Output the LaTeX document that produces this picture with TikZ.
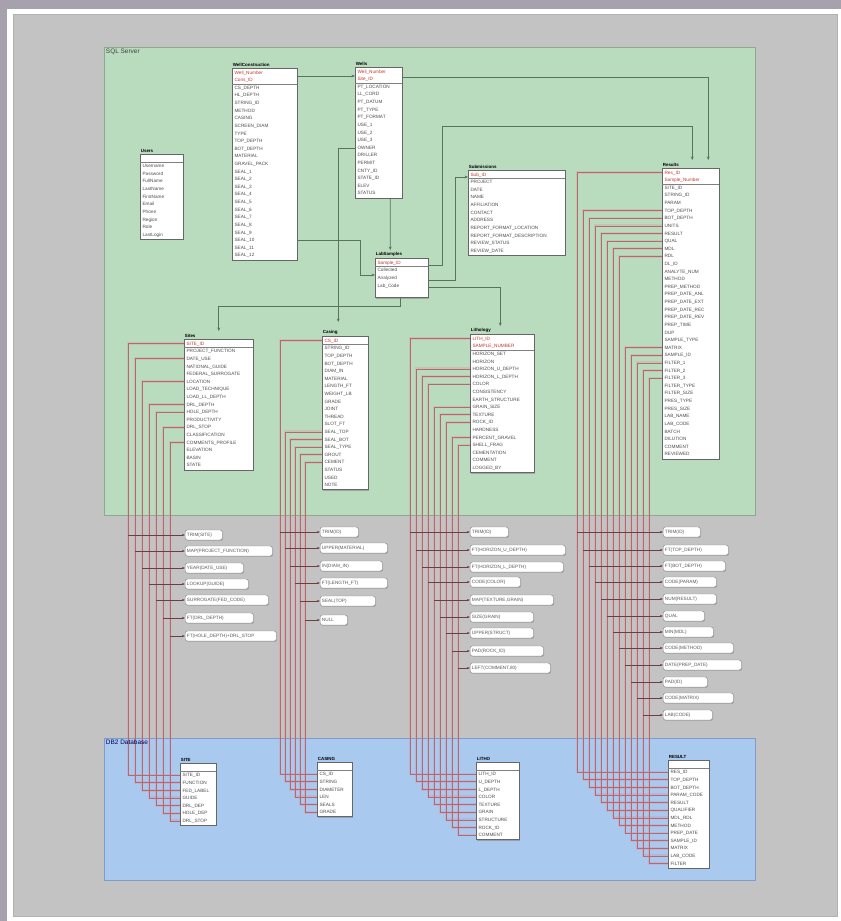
\documentclass[tikz,border=0pt]{standalone}
\usepackage{fontspec}
\setmainfont{Liberation Sans}
\usetikzlibrary{arrows.meta,positioning,calc,shadows}

\definecolor{framegray}{HTML}{A7A1AD}
\definecolor{canvasgray}{HTML}{C3C3C3}
\definecolor{sqlgreen}{HTML}{B9DCBE}
\definecolor{sqledge}{HTML}{8DAA8F}
\definecolor{dbblue}{HTML}{A9C9EF}
\definecolor{dbedge}{HTML}{7E9CC4}
\definecolor{keyred}{HTML}{C0392B}
\definecolor{mapred}{HTML}{B8676C}
\definecolor{halopink}{HTML}{E58A97}
\definecolor{relgreen}{HTML}{587558}

\pgfdeclarelayer{bg}
\pgfdeclarelayer{halo}
\pgfdeclarelayer{wires}
\pgfsetlayers{bg,halo,wires,main}

\newcommand{\rowh}{7.615}

\begin{document}
\begin{tikzpicture}[
  x=0.03cm, y=-0.03cm,
  >=Latex,
  font=\fontsize{4}{6.5}\selectfont,
  zone/.style={draw=#1, line width=0.6pt, anchor=north west, inner sep=0pt},
  zonelabel/.style={anchor=north west, inner sep=1.5pt, font=\fontsize{5.5}{6}\selectfont},
  tbl/.style={draw=black!60, fill=white, anchor=north west, align=left, inner xsep=2pt, inner ysep=0.5pt, text=black!70,
    drop shadow={shadow xshift=0.9pt, shadow yshift=-0.9pt, fill=black!55, opacity=0.45}},
  tbltitle/.style={anchor=south west, inner xsep=0.5pt, inner ysep=0.8pt, font=\fontsize{3.8}{4}\selectfont\bfseries},
  sepline/.style={draw=black!50, line width=0.3pt},
  pill/.style={draw=black!45, fill=white, rounded corners=1.8pt, anchor=west, align=left, inner xsep=1.5pt, inner ysep=0pt,
    minimum height=0.3cm, text=black!65, drop shadow={shadow xshift=0.7pt, shadow yshift=-0.7pt, fill=black!50, opacity=0.45}},
  halo/.style={draw=halopink, line width=2.4pt, opacity=0.3},
  mapline/.style={draw=mapred, line width=0.3pt},
  pillwire/.style={draw=mapred!60!black, line width=0.3pt, -{Latex[length=2.2pt,width=1.8pt]}},
  rel/.style={draw=relgreen, line width=0.45pt, -{Stealth[length=3pt,width=2.4pt]}}
]
\useasboundingbox (0,0) rectangle (841,921);

% frame and zones
\begin{pgfonlayer}{bg}
\fill[framegray] (0,0) rectangle (841,921);
\fill[white] (7,9) rectangle (841,921);
\filldraw[fill=canvasgray, draw=black!30] (13,14) rectangle (837,916);
\node[zone=sqledge, fill=sqlgreen, minimum width=19.53cm, minimum height=14.04cm] (sql) at (104,47) {};
\node[zone=dbedge, fill=dbblue, minimum width=19.53cm, minimum height=4.26cm] (db2) at (104,738) {};
\end{pgfonlayer}
\node[zonelabel, text=black!75] (sql-l) at (sql.north west) {SQL Server};
\node[zonelabel, text=blue!35!black] (db2-l) at (db2.north west) {DB2 Database};

% SQL Server tables
\node[tbl, text width=1.15cm] (users) at (140,154) {\strut\\Username\\Password\\FullName\\LastName\\FirstName\\Email\\Phone\\Region\\Role\\LastLogin\strut};
\node[tbltitle] (users-t) at (users.north west) {Users};

\node[tbl, text width=1.81cm] (wcons) at (232,68) {\strut\textcolor{keyred}{Well\_Number}\\\textcolor{keyred}{Cons\_ID}\\CS\_DEPTH\\HL\_DEPTH\\STRING\_ID\\METHOD\\CASING\\SCREEN\_DIAM\\TYPE\\TOP\_DEPTH\\BOT\_DEPTH\\MATERIAL\\GRAVEL\_PACK\\SEAL\_1\\SEAL\_2\\SEAL\_3\\SEAL\_4\\SEAL\_5\\SEAL\_6\\SEAL\_7\\SEAL\_8\\SEAL\_9\\SEAL\_10\\SEAL\_11\\SEAL\_12\strut};
\node[tbltitle] (wcons-t) at (wcons.north west) {WellConstruction};

\node[tbl, text width=1.27cm] (wells) at (355,67) {\strut\textcolor{keyred}{Well\_Number}\\\textcolor{keyred}{Site\_ID}\\PT\_LOCATION\\LL\_CORD\\PT\_DATUM\\PT\_TYPE\\PT\_FORMAT\\USE\_1\\USE\_2\\USE\_3\\OWNER\\DRILLER\\PERMIT\\CNTY\_ID\\STATE\_ID\\ELEV\\STATUS\strut};
\node[tbltitle] (wells-t) at (wells.north west) {Wells};

\node[tbl, text width=1.45cm] (labs) at (375,258) {\strut\textcolor{keyred}{Sample\_ID}\\Collected\\Analyzed\\Lab\_Code\\\strut};
\node[tbltitle] (labs-t) at (labs.north west) {LabSamples};

\node[tbl, text width=2.77cm] (subm) at (468,170) {\strut\textcolor{keyred}{Sub\_ID}\\PROJECT\\DATE\\NAME\\AFFILIATION\\CONTACT\\ADDRESS\\REPORT\_FORMAT\_LOCATION\\REPORT\_FORMAT\_DESCRIPTION\\REVIEW\_STATUS\\REVIEW\_DATE\strut};
\node[tbltitle] (subm-t) at (subm.north west) {Submissions};

\node[tbl, text width=1.57cm] (results) at (662,168) {\strut\textcolor{keyred}{Res\_ID}\\\textcolor{keyred}{Sample\_Number}\\SITE\_ID\\STRING\_ID\\PARAM\\TOP\_DEPTH\\BOT\_DEPTH\\UNITS\\RESULT\\QUAL\\MDL\\RDL\\DL\_ID\\ANALYTE\_NUM\\METHOD\\PREP\_METHOD\\PREP\_DATE\_ANL\\PREP\_DATE\_EXT\\PREP\_DATE\_REC\\PREP\_DATE\_REV\\PREP\_TIME\\DUP\\SAMPLE\_TYPE\\MATRIX\\SAMPLE\_ID\\FILTER\_1\\FILTER\_2\\FILTER\_3\\FILTER\_TYPE\\FILTER\_SIZE\\PRES\_TYPE\\PRES\_SIZE\\LAB\_NAME\\LAB\_CODE\\BATCH\\DILUTION\\COMMENT\\REVIEWED\strut};
\node[tbltitle] (results-t) at (results.north west) {Results};

\node[tbl, text width=1.93cm] (sites) at (184,339) {\strut\textcolor{keyred}{SITE\_ID}\\PROJECT\_FUNCTION\\DATE\_USE\\NATIONAL\_GUIDE\\FEDERAL\_SURROGATE\\LOCATION\\LOAD\_TECHNIQUE\\LOAD\_LL\_DEPTH\\DRL\_DEPTH\\HOLE\_DEPTH\\PRODUCTIVITY\\DRL\_STOP\\CLASSIFICATION\\COMMENTS\_PROFILE\\ELEVATION\\BASIN\\STATE\strut};
\node[tbltitle] (sites-t) at (sites.north west) {Sites};

\node[tbl, text width=1.24cm] (casing) at (322,336) {\strut\textcolor{keyred}{CS\_ID}\\STRING\_ID\\TOP\_DEPTH\\BOT\_DEPTH\\DIAM\_IN\\MATERIAL\\LENGTH\_FT\\WEIGHT\_LB\\GRADE\\JOINT\\THREAD\\SLOT\_FT\\SEAL\_TOP\\SEAL\_BOT\\SEAL\_TYPE\\GROUT\\CEMENT\\STATUS\\USED\\NOTE\strut};
\node[tbltitle] (casing-t) at (casing.north west) {Casing};

\node[tbl, text width=1.78cm] (litho) at (470,334) {\strut\textcolor{keyred}{LITH\_ID}\\\textcolor{keyred}{SAMPLE\_NUMBER}\\HORIZON\_SET\\HORIZON\\HORIZON\_U\_DEPTH\\HORIZON\_L\_DEPTH\\COLOR\\CONSISTENCY\\EARTH\_STRUCTURE\\GRAIN\_SIZE\\TEXTURE\\ROCK\_ID\\HARDNESS\\PERCENT\_GRAVEL\\SHELL\_FRAG\\CEMENTATION\\COMMENT\\LOGGED\_BY\strut};
\node[tbltitle] (litho-t) at (litho.north west) {Lithology};

% DB2 tables
\node[tbl, text width=0.94cm] (dbsite) at (180,763) {\strut\\SITE\_ID\\FUNCTION\\FED\_LABEL\\GUIDE\\DRL\_DEP\\HOLE\_DEP\\DRL\_STOP\strut};
\node[tbltitle] (dbsite-t) at (dbsite.north west) {SITE};

\node[tbl, text width=0.91cm] (dbcasing) at (317,762) {\strut\\CS\_ID\\STRING\\DIAMETER\\LEN\\SEALS\\GRADE\strut};
\node[tbltitle] (dbcasing-t) at (dbcasing.north west) {CASING};

\node[tbl, text width=1.15cm] (dblitho) at (476,762) {\strut\\LITH\_ID\\U\_DEPTH\\L\_DEPTH\\COLOR\\TEXTURE\\GRAIN\\STRUCTURE\\ROCK\_ID\\COMMENT\strut};
\node[tbltitle] (dblitho-t) at (dblitho.north west) {LITHO};

\node[tbl, text width=1.09cm] (dbresult) at (668,760) {\strut\\RES\_ID\\TOP\_DEPTH\\BOT\_DEPTH\\PARAM\_CODE\\RESULT\\QUALIFIER\\MDL\_RDL\\METHOD\\PREP\_DATE\\SAMPLE\_ID\\MATRIX\\LAB\_CODE\\FILTER\strut};
\node[tbltitle] (dbresult-t) at (dbresult.north west) {RESULT};

% key separators
\foreach \tb/\k in {users/1, wcons/2, wells/2, labs/1, subm/1, results/2, sites/1, casing/1, litho/2, dbsite/1, dbcasing/1, dblitho/1, dbresult/1}
  \draw[sepline] ($(\tb.north west)+(0,{0.59+\k*\rowh})$) -- ($(\tb.north east)+(0,{0.59+\k*\rowh})$);

% relationships
\begin{pgfonlayer}{wires}
\draw[rel] ($(wcons.north east)+(0,8)$) -- ($(wells.north west)+(0,9)$);
\draw[rel] ($(wells.north east)+(0,10)$) -| ($(results.north)+(17.5,-8)$);
\draw[rel] ($(labs.north east)+(0,7)$) -- ++(14,0) |- ($(results.north)+(1.5,-42)$) -- ($(results.north)+(1.5,-8)$);
\draw[rel] ($(wells.north west)+(0,81)$) -| ($(casing.north)+(-7,-14)$);
\draw[rel] ($(wells.south)+(11.5,0)$) -- ($(labs.north)+(-11.5,-8)$);
\draw[rel] ($(wcons.north east)+(0,172)$) -| ($(labs.north west)+(-15,17)$) -- ($(labs.north west)+(0,17)$);
\draw[rel] ($(labs.south)+(-1.5,0)$) -- ++(0,9) -| ($(sites.north)+(0,-8)$);
\draw[rel] ($(labs.north east)+(0,29)$) -| ($(litho.north)+(-2,-8)$);
\draw[rel] ($(labs.north east)+(0,22)$) -- ++(27,0) |- ($(subm.north west)+(0,7)$);
\end{pgfonlayer}

% column mappings: sites -> dbsite
\foreach \idx/\row/\xx in {1/1/128, 2/3/135, 3/6/142, 4/9/149, 5/10/156, 6/12/163, 7/14/170}{
  \coordinate (u) at ($(sites.north west)+(0,{0.59+(\row-0.5)*\rowh})$);
  \coordinate (d) at ($(dbsite.north west)+(0,{0.59+(\idx+0.5)*\rowh})$);
  \coordinate (v) at (\xx,0);
  \begin{pgfonlayer}{halo}\draw[halo] (u) -- (u -| v) -- (d -| v) -- (d);\end{pgfonlayer}
  \begin{pgfonlayer}{wires}\draw[mapline] (u) -- (u -| v) -- (d -| v) -- (d);\end{pgfonlayer}
}
% casing -> dbcasing
\foreach \idx/\row/\xx in {1/1/280, 2/13/285, 3/14/290, 4/15/295, 5/16/300, 6/17/305}{
  \coordinate (u) at ($(casing.north west)+(0,{0.59+(\row-0.5)*\rowh})$);
  \coordinate (d) at ($(dbcasing.north west)+(0,{0.59+(\idx+0.5)*\rowh})$);
  \coordinate (v) at (\xx,0);
  \begin{pgfonlayer}{halo}\draw[halo] (u) -- (u -| v) -- (d -| v) -- (d);\end{pgfonlayer}
  \begin{pgfonlayer}{wires}\draw[mapline] (u) -- (u -| v) -- (d -| v) -- (d);\end{pgfonlayer}
}
% litho -> dblitho
\foreach \idx/\row/\xx in {1/1/410, 2/5/416, 3/6/422, 4/7/428, 5/10/434, 6/11/440, 7/12/446, 8/14/452, 9/15/458}{
  \coordinate (u) at ($(litho.north west)+(0,{0.59+(\row-0.5)*\rowh})$);
  \coordinate (d) at ($(dblitho.north west)+(0,{0.59+(\idx+0.5)*\rowh})$);
  \coordinate (v) at (\xx,0);
  \begin{pgfonlayer}{halo}\draw[halo] (u) -- (u -| v) -- (d -| v) -- (d);\end{pgfonlayer}
  \begin{pgfonlayer}{wires}\draw[mapline] (u) -- (u -| v) -- (d -| v) -- (d);\end{pgfonlayer}
}
% results -> dbresult
\foreach \idx/\row/\xx in {1/1/577, 2/6/583, 3/7/589, 4/8/595, 5/9/601, 6/10/607, 7/11/613, 8/12/619, 9/24/625, 10/25/631, 11/26/637, 12/27/643, 13/28/649}{
  \coordinate (u) at ($(results.north west)+(0,{0.59+(\row-0.5)*\rowh})$);
  \coordinate (d) at ($(dbresult.north west)+(0,{0.59+(\idx+0.5)*\rowh})$);
  \coordinate (v) at (\xx,0);
  \begin{pgfonlayer}{halo}\draw[halo] (u) -- (u -| v) -- (d -| v) -- (d);\end{pgfonlayer}
  \begin{pgfonlayer}{wires}\draw[mapline] (u) -- (u -| v) -- (d -| v) -- (d);\end{pgfonlayer}
}

% transforms
\foreach \y/\w/\xx/\txt [count=\j] in {535/37/128/TRIM(SITE), 551/87/135/{MAP(PROJECT\_FUNCTION)}, 568/58/142/{YEAR(DATE\_USE)}, 584/63/149/{LOOKUP(GUIDE)}, 600/83/156/{SURROGATE(FED\_CODE)}, 618/68/163/{FT(DRL\_DEPTH)}, 636/91/170/{FT(HOLE\_DEPTH)+DRL\_STOP}}{
  \pgfmathsetmacro\tw{(\w-3.5)*0.03}
  \node[pill, text width=\tw cm] (psite\j) at (185,\y) {\txt};
  \coordinate (v) at (\xx,0);
  \begin{pgfonlayer}{wires}\draw[pillwire] (psite\j.west -| v) -- (psite\j.west);\end{pgfonlayer}
}
\foreach \y/\w/\xx/\txt [count=\j] in {532/38/280/TRIM(ID), 548/67/285/{UPPER(MATERIAL)}, 566/62/290/{IN(DIAM\_IN)}, 583/67/295/{FT(LENGTH\_FT)}, 601/55/300/{SEAL(TOP)}, 620/27/305/NULL}{
  \pgfmathsetmacro\tw{(\w-3.5)*0.03}
  \node[pill, text width=\tw cm] (pcas\j) at (320,\y) {\txt};
  \coordinate (v) at (\xx,0);
  \begin{pgfonlayer}{wires}\draw[pillwire] (pcas\j.west -| v) -- (pcas\j.west);\end{pgfonlayer}
}
\foreach \y/\w/\xx/\txt [count=\j] in {532/38/410/TRIM(ID), 550/95/416/{FT(HORIZON\_U\_DEPTH)}, 567/93/422/{FT(HORIZON\_L\_DEPTH)}, 582/50/428/{CODE(COLOR)}, 600/83/434/{MAP(TEXTURE,GRAIN)}, 617/63/440/{SIZE(GRAIN)}, 633/63/446/{UPPER(STRUCT)}, 651/73/452/{PAD(ROCK\_ID)}, 668/80/458/{LEFT(COMMENT,80)}}{
  \pgfmathsetmacro\tw{(\w-3.5)*0.03}
  \node[pill, text width=\tw cm] (plith\j) at (470,\y) {\txt};
  \coordinate (v) at (\xx,0);
  \begin{pgfonlayer}{wires}\draw[pillwire] (plith\j.west -| v) -- (plith\j.west);\end{pgfonlayer}
}
\foreach \y/\w/\xx/\txt [count=\j] in {532/37/577/TRIM(ID), 550/65/583/{FT(TOP\_DEPTH)}, 566/62/589/{FT(BOT\_DEPTH)}, 582/53/595/{CODE(PARAM)}, 599/53/601/{NUM(RESULT)}, 616/41/607/QUAL, 632/50/613/{MIN(MDL)}, 648/70/619/{CODE(METHOD)}, 665/78/625/{DATE(PREP\_DATE)}, 682/44/631/{PAD(ID)}, 698/70/637/{CODE(MATRIX)}, 715/49/643/{LAB(CODE)}}{
  \pgfmathsetmacro\tw{(\w-3.5)*0.03}
  \node[pill, text width=\tw cm] (pres\j) at (663,\y) {\txt};
  \coordinate (v) at (\xx,0);
  \begin{pgfonlayer}{wires}\draw[pillwire] (pres\j.west -| v) -- (pres\j.west);\end{pgfonlayer}
}
\end{tikzpicture}
\end{document}
